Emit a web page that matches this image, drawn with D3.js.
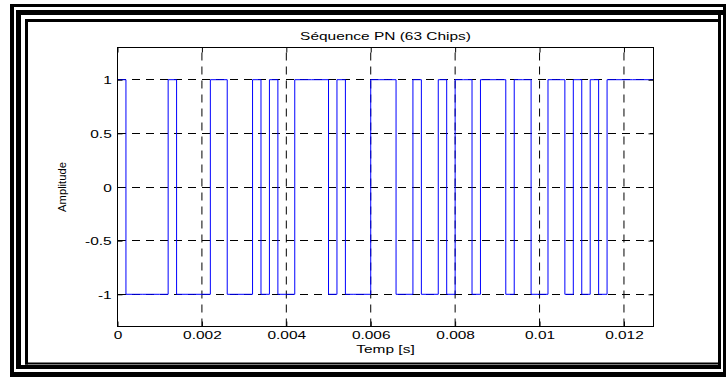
<!DOCTYPE html>
<html><head><meta charset="utf-8">
<script src="https://cdn.jsdelivr.net/npm/d3@7"></script>
<style>body{margin:0;background:#fff} svg{display:block}</style>
</head><body><svg id="c" width="726" height="377"></svg>
<script>
// ---- data ----
const chipDuration = 0.0002;           // seconds per chip
const chipValues = [1,-1,-1,-1,-1,-1,1,-1,-1,-1,-1,1,1,-1,-1,-1,1,-1,1,-1,-1,1,1,1,1,-1,1,-1,-1,-1,1,1,1,-1,-1,1,-1,-1,1,-1,1,1,-1,1,1,1,-1,1,1,-1,-1,1,1,-1,1,-1,1,-1,1,1,1,1,1];
const xLimits = [0, 0.0127];
const yLimits = [-1.3, 1.3];
const xTickValues = [0, 0.002, 0.004, 0.006, 0.008, 0.01, 0.012];
const xTickLabels = ["0", "0.002", "0.004", "0.006", "0.008", "0.01", "0.012"];
const yTickValues = [-1, -0.5, 0, 0.5, 1];
const yTickLabels = ["-1", "-0.5", "0", "0.5", "1"];
const titleText = "Séquence PN (63 Chips)";
const xLabelText = "Temp [s]";
const yLabelText = "Amplitude";

// ---- layout ----
const svg = d3.select("#c");
const P = {left: 117.5, right: 653.5, top: 47.5, bottom: 326.5};
const FONT = "'Liberation Sans', Arial, sans-serif";
const FS = 11.2, SX = 1.38;

const x = d3.scaleLinear().domain(xLimits).range([P.left, P.right]);
const y = d3.scaleLinear().domain(yLimits).range([P.bottom, P.top]);

// decorative page border
const bars = [
  // frame A
  [10,4,726,7],[10,4,14,377],[10,372,726,377],[723,4,726,377],
  // frame B
  [16,10,723,15],[16,10,21,369],[16,365,721,369],[718,10,721,369],
  // frame C
  [25,19,721,22],[25,19,28,364.5],[25,362.5,721,364.5]
];
svg.append("g").selectAll("rect").data(bars).join("rect")
  .attr("x", d => d[0]).attr("y", d => d[1])
  .attr("width", d => d[2]-d[0]).attr("height", d => d[3]-d[1])
  .attr("fill", "#000");

// grid
const grid = svg.append("g").attr("stroke", "#000").attr("stroke-width", 1).attr("stroke-dasharray", "8,6").attr("fill", "none");
grid.selectAll("line.v").data(xTickValues.filter(v => v > xLimits[0])).join("line")
  .attr("class","v")
  .attr("x1", d => x(d)).attr("x2", d => x(d)).attr("y1", P.bottom).attr("y2", P.top);
grid.selectAll("line.h").data(yTickValues).join("line")
  .attr("class","h").attr("shape-rendering","crispEdges")
  .attr("y1", d => y(d)).attr("y2", d => y(d)).attr("x1", P.left).attr("x2", P.right);

// signal
const pts = chipValues.map((v, i) => [i * chipDuration, v]);
pts.push([xLimits[1], chipValues[chipValues.length - 1]]);
const line = d3.line().x(d => x(d[0])).y(d => y(d[1])).curve(d3.curveStepAfter);
svg.append("path").datum(pts).attr("d", line)
  .attr("fill", "none").attr("stroke", "#0000ff").attr("stroke-width", 1);

// axes
function styleAxis(g) {
  g.select(".domain").remove();
  g.selectAll("line").attr("stroke", "#000");
  g.selectAll("text").attr("font-family", FONT).attr("font-size", FS).attr("fill", "#000");
}
const xAxis = d3.axisBottom(x).tickValues(xTickValues).tickFormat((d, i) => xTickLabels[i]).tickSizeInner(-5).tickSizeOuter(0).tickPadding(0);
svg.append("g").attr("transform", `translate(0,${P.bottom})`).call(xAxis).call(styleAxis)
  .call(g => g.selectAll("text").attr("y", 13).attr("dy", 0).attr("transform", `scale(${SX},1)`));
svg.append("g").attr("transform", `translate(0,${P.top})`)
  .call(d3.axisTop(x).tickValues(xTickValues).tickFormat("").tickSizeInner(-5).tickSizeOuter(0)).call(styleAxis);

const yAxis = d3.axisLeft(y).tickValues(yTickValues).tickFormat((d, i) => yTickLabels[i]).tickSizeInner(-5).tickSizeOuter(0).tickPadding(0);
svg.append("g").attr("transform", `translate(${P.left},0)`).call(yAxis).call(styleAxis)
  .call(g => g.selectAll("text").attr("x", -4.2).attr("dy", "0.36em").attr("transform", `scale(${SX},1)`));
svg.append("g").attr("transform", `translate(${P.right},0)`)
  .call(d3.axisRight(y).tickValues(yTickValues).tickFormat("").tickSizeInner(-5).tickSizeOuter(0)).call(styleAxis);

// box
svg.append("rect").attr("x", P.left).attr("y", P.top)
  .attr("width", P.right - P.left).attr("height", P.bottom - P.top)
  .attr("fill", "none").attr("stroke", "#000").attr("stroke-width", 1);

// labels
const cx = (P.left + P.right) / 2;
svg.append("text").attr("transform", `translate(${cx},40) scale(${SX},1)`)
  .attr("text-anchor", "middle").attr("font-family", FONT).attr("font-size", FS).text(titleText);
svg.append("text").attr("transform", `translate(${cx},353) scale(${SX},1)`)
  .attr("text-anchor", "middle").attr("font-family", FONT).attr("font-size", FS).text(xLabelText);
svg.append("text").attr("transform", `translate(66,${(P.top + P.bottom) / 2}) rotate(-90)`)
  .attr("text-anchor", "middle").attr("font-family", FONT).attr("font-size", FS).text(yLabelText);
</script></body></html>
